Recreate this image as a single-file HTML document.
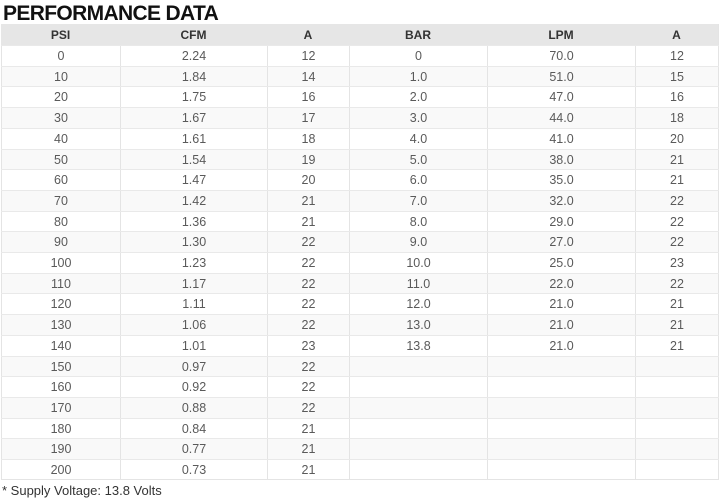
<!DOCTYPE html>
<html><head><meta charset="utf-8">
<style>
html,body{margin:0;padding:0;background:#fff;}
body{width:720px;height:504px;position:relative;overflow:hidden;font-family:"Liberation Sans",Arial,sans-serif;}
.title{position:absolute;left:3px;top:1px;font-size:21px;font-weight:bold;color:#111;letter-spacing:-0.65px;line-height:26px;white-space:nowrap;}
.tbl{position:absolute;left:1px;top:24px;width:718px;}
.row{position:relative;height:20.714px;box-sizing:border-box;border-top:1px solid #e9e9e9;}
.row.h{height:21px;background:#e6e6e6;border-top:none;}
.row.s{background:#f9f9f9;}
.c{position:absolute;top:0;bottom:0;text-align:center;font-size:12.5px;color:#5a5a5a;line-height:20px;box-sizing:border-box;border-left:1px solid #e4e4e4;}
.row.h .c{font-weight:bold;color:#333;font-size:12px;line-height:22px;border-left:none;}
.c1{left:0;width:119px;}
.c2{left:119px;width:147px;}
.c3{left:266px;width:82px;}
.c4{left:348px;width:138px;}
.c5{left:486px;width:148px;}
.c6{left:634px;width:84px;border-right:1px solid #e4e4e4;}
.row.last{border-bottom:1px solid #e4e4e4;}
.foot{position:absolute;left:2px;top:482px;font-size:13px;color:#333;line-height:18px;white-space:nowrap;}
</style></head><body>
<div class="title">PERFORMANCE DATA</div>
<div class="tbl">
<div class="row h"><div class="c c1">PSI</div><div class="c c2">CFM</div><div class="c c3">A</div><div class="c c4">BAR</div><div class="c c5">LPM</div><div class="c c6">A</div></div>
<div class="row"><div class="c c1">0</div><div class="c c2">2.24</div><div class="c c3">12</div><div class="c c4">0</div><div class="c c5">70.0</div><div class="c c6">12</div></div>
<div class="row s"><div class="c c1">10</div><div class="c c2">1.84</div><div class="c c3">14</div><div class="c c4">1.0</div><div class="c c5">51.0</div><div class="c c6">15</div></div>
<div class="row"><div class="c c1">20</div><div class="c c2">1.75</div><div class="c c3">16</div><div class="c c4">2.0</div><div class="c c5">47.0</div><div class="c c6">16</div></div>
<div class="row s"><div class="c c1">30</div><div class="c c2">1.67</div><div class="c c3">17</div><div class="c c4">3.0</div><div class="c c5">44.0</div><div class="c c6">18</div></div>
<div class="row"><div class="c c1">40</div><div class="c c2">1.61</div><div class="c c3">18</div><div class="c c4">4.0</div><div class="c c5">41.0</div><div class="c c6">20</div></div>
<div class="row s"><div class="c c1">50</div><div class="c c2">1.54</div><div class="c c3">19</div><div class="c c4">5.0</div><div class="c c5">38.0</div><div class="c c6">21</div></div>
<div class="row"><div class="c c1">60</div><div class="c c2">1.47</div><div class="c c3">20</div><div class="c c4">6.0</div><div class="c c5">35.0</div><div class="c c6">21</div></div>
<div class="row s"><div class="c c1">70</div><div class="c c2">1.42</div><div class="c c3">21</div><div class="c c4">7.0</div><div class="c c5">32.0</div><div class="c c6">22</div></div>
<div class="row"><div class="c c1">80</div><div class="c c2">1.36</div><div class="c c3">21</div><div class="c c4">8.0</div><div class="c c5">29.0</div><div class="c c6">22</div></div>
<div class="row s"><div class="c c1">90</div><div class="c c2">1.30</div><div class="c c3">22</div><div class="c c4">9.0</div><div class="c c5">27.0</div><div class="c c6">22</div></div>
<div class="row"><div class="c c1">100</div><div class="c c2">1.23</div><div class="c c3">22</div><div class="c c4">10.0</div><div class="c c5">25.0</div><div class="c c6">23</div></div>
<div class="row s"><div class="c c1">110</div><div class="c c2">1.17</div><div class="c c3">22</div><div class="c c4">11.0</div><div class="c c5">22.0</div><div class="c c6">22</div></div>
<div class="row"><div class="c c1">120</div><div class="c c2">1.11</div><div class="c c3">22</div><div class="c c4">12.0</div><div class="c c5">21.0</div><div class="c c6">21</div></div>
<div class="row s"><div class="c c1">130</div><div class="c c2">1.06</div><div class="c c3">22</div><div class="c c4">13.0</div><div class="c c5">21.0</div><div class="c c6">21</div></div>
<div class="row"><div class="c c1">140</div><div class="c c2">1.01</div><div class="c c3">23</div><div class="c c4">13.8</div><div class="c c5">21.0</div><div class="c c6">21</div></div>
<div class="row s"><div class="c c1">150</div><div class="c c2">0.97</div><div class="c c3">22</div><div class="c c4"></div><div class="c c5"></div><div class="c c6"></div></div>
<div class="row"><div class="c c1">160</div><div class="c c2">0.92</div><div class="c c3">22</div><div class="c c4"></div><div class="c c5"></div><div class="c c6"></div></div>
<div class="row s"><div class="c c1">170</div><div class="c c2">0.88</div><div class="c c3">22</div><div class="c c4"></div><div class="c c5"></div><div class="c c6"></div></div>
<div class="row"><div class="c c1">180</div><div class="c c2">0.84</div><div class="c c3">21</div><div class="c c4"></div><div class="c c5"></div><div class="c c6"></div></div>
<div class="row s"><div class="c c1">190</div><div class="c c2">0.77</div><div class="c c3">21</div><div class="c c4"></div><div class="c c5"></div><div class="c c6"></div></div>
<div class="row last"><div class="c c1">200</div><div class="c c2">0.73</div><div class="c c3">21</div><div class="c c4"></div><div class="c c5"></div><div class="c c6"></div></div>
</div>
<div class="foot">* Supply Voltage: 13.8 Volts</div>
</body></html>
